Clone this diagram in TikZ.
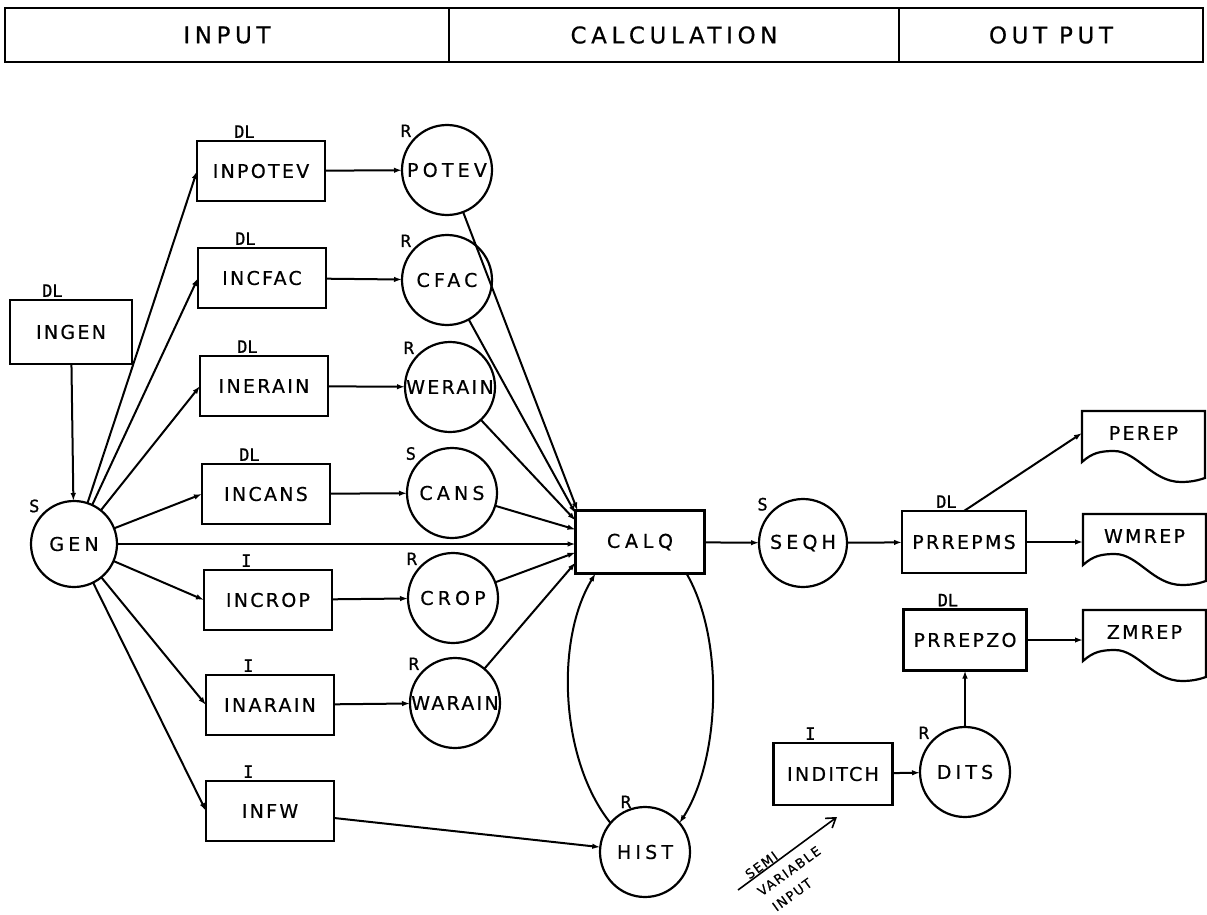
\documentclass[tikz,border=0pt]{standalone}
\usepackage{fontspec}
\setmainfont{DejaVu Sans}[LetterSpace=12, FakeBold=0.6]
\newfontfamily\headfont{DejaVu Sans}[LetterSpace=20, FakeBold=0.6]
\newfontfamily\tagfont{DejaVu Sans Mono}[FakeBold=1]
\usetikzlibrary{arrows.meta,calc}

\tikzset{
  boxfont/.style={font=\fontsize{19}{19}\selectfont},
  widefont/.style={font=\addfontfeature{LetterSpace=22}\fontsize{19}{19}\selectfont},
  head/.style={draw, line width=2.2pt, minimum height=54pt, inner sep=0pt, outer sep=0pt,
    font=\headfont\fontsize{23}{23}\selectfont},
  box/.style={draw, line width=2.2pt, minimum width=128pt, minimum height=60pt,
    inner sep=0pt, outer sep=0pt, boxfont},
  file/.style={draw, circle, line width=2.2pt, minimum size=90pt, inner sep=0pt,
    outer sep=0pt, widefont},
  doc/.style={minimum width=123pt, minimum height=44pt, inner sep=0pt, outer sep=0pt, boxfont},
  tag/.style={font=\tagfont\fontsize{17}{17}\selectfont, inner sep=1pt},
  btag/.style={label={[tag, anchor=south west, xshift=2pt, yshift=2pt]above left:#1}},
  ctag/.style={label={[tag, anchor=south east, xshift=-3pt, yshift=0pt]above left:#1}},
  note/.style={font=\fontsize{13}{21}\selectfont, inner sep=0pt, align=left},
  flow/.style={line width=2pt, -{Latex[length=8pt,width=5.5pt]}},
}

% printout symbol: straight top and sides, wavy bottom edge
\newcommand\docoutline[1]{%
  \draw[line width=2.2pt] (#1.north west) -- ($(#1.north west)+(0,51)$)
    .. controls ($(#1.north west)+(10,42)$) and ($(#1.north west)+(18,40)$) .. ($(#1.north west)+(32,40)$)
    .. controls ($(#1.north west)+(55,40)$) and ($(#1.north west)+(70,71)$) .. ($(#1.north west)+(99,71)$)
    .. controls ($(#1.north west)+(110,71)$) and ($(#1.north west)+(117,69)$) .. ($(#1.north west)+(123,67)$)
    -- (#1.north east) -- cycle;}

\begin{document}
\begin{tikzpicture}[x=1pt, y=-1pt]
\useasboundingbox (0,0) rectangle (1207,915);

% header bar
\node[head, minimum width=444pt] (hin) at (227,35) {INPUT};
\node[head, minimum width=450pt] (hcalc) at (674,35) {CALCULATION};
\node[head, minimum width=304pt] (hout) at (1051,35) {OUT PUT};

% input programs
\node[box, minimum width=122pt, minimum height=64pt, btag=DL] (ingen) at (71,332) {INGEN};
\node[box, btag=DL] (inpotev) at (261,171) {INPOTEV};
\node[box, btag=DL] (incfac) at (262,278) {INCFAC};
\node[box, btag=DL] (inerain) at (264,386) {INERAIN};
\node[box, btag=DL] (incans) at (266,494) {INCANS};
\node[box, btag=I] (incrop) at (268,600) {INCROP};
\node[box, btag=I] (inarain) at (270,705) {INARAIN};
\node[box, btag=I] (infw) at (270,811) {INFW};

% files
\node[file, minimum size=86pt, ctag=S] (gen) at (74,544) {GEN};
\node[file, ctag=R] (potev) at (447,170) {POTEV};
\node[file, ctag=R] (cfac) at (447,280) {CFAC};
\node[file, boxfont, ctag=R] (werain) at (450,387) {WERAIN};
\node[file, ctag=S] (cans) at (452,493) {CANS};
\node[file, ctag=R] (crop) at (453,598) {CROP};
\node[file, boxfont, ctag=R] (warain) at (455,703) {WARAIN};
\node[file, label={[tag, anchor=south, yshift=2pt]115:R}] (hist) at (645,852) {HIST};

% calculation and output
\node[box, minimum width=129pt, minimum height=63pt, font=\addfontfeature{LetterSpace=25}\fontsize{19}{19}\selectfont] (calq) at (640,542) {CALQ};
\node[file, minimum size=88pt, ctag=S] (seqh) at (803,543) {SEQH};
\node[box, minimum width=124pt, minimum height=62pt, btag=DL] (prrepms) at (964,542) {PRREPMS};
\node[box, minimum width=123pt, minimum height=61pt, btag=DL] (prrepzo) at (965,640) {PRREPZO};
\node[file, ctag=R] (dits) at (965,772) {DITS};
\node[box, minimum width=119pt, minimum height=62pt, btag=I] (inditch) at (833,774) {INDITCH};

% reports
\node[doc] (perep) at (1143.5,433) {PEREP};
\node[doc] (wmrep) at (1144.5,536) {WMREP};
\node[doc] (zmrep) at (1144.5,632) {ZMREP};
\docoutline{perep}
\docoutline{wmrep}
\docoutline{zmrep}

% connectors
\draw[flow] (ingen) -- (gen);
\foreach \b in {inpotev,incfac,inerain,incans,incrop,inarain,infw}
  \draw[flow] (gen) -- (\b.west);
\draw[flow] (gen.east) -- (gen.east -| calq.west);

\draw[flow] (inpotev) -- (potev);
\draw[flow] (incfac) -- (cfac);
\draw[flow] (inerain) -- (werain);
\draw[flow] (incans) -- (cans);
\draw[flow] (incrop) -- (crop);
\draw[flow] (inarain) -- (warain);

\draw[flow] (potev) -- ([xshift=2pt]calq.north west);
\draw[flow] (cfac) -- ([yshift=-3pt]calq.north west);
\draw[flow] (werain) -- ([yshift=-10pt]calq.north west);
\draw[flow] (cans) -- ([yshift=-19pt]calq.north west);
\draw[flow] (crop) -- ([yshift=-42pt]calq.north west);
\draw[flow] (warain) -- ([yshift=-52pt]calq.north west);

\draw[flow] (infw) -- (hist);
\draw[flow] (hist.140) .. controls (560,760) and (555,640) .. ([xshift=20pt]calq.south west);
\draw[flow] ([xshift=-18pt]calq.south east) .. controls (725,640) and (720,760) .. (hist.40);

\draw[flow] (calq) -- (seqh);
\draw[flow] (seqh) -- (prrepms);
\draw[flow] (prrepms.north) -- (perep.west);
\draw[flow] (prrepms.east) -- (prrepms.east -| wmrep.west);
\draw[flow] (prrepzo.east) -- (prrepzo.east -| zmrep.west);
\draw[flow] (dits) -- (prrepzo);
\draw[flow] (inditch) -- (dits);

% semi variable input marker
\coordinate (svtail) at (738,890);
\coordinate (svhead) at (837,817);
\draw[line width=1.6pt, -{Straight Barb[length=9pt,width=12pt]}] (svtail) -- (svhead);
\node[note, rotate=36] (semivar) at (789,871) {SEMI\\VARIABLE\\\hspace*{3pt}INPUT};
\end{tikzpicture}
\end{document}
